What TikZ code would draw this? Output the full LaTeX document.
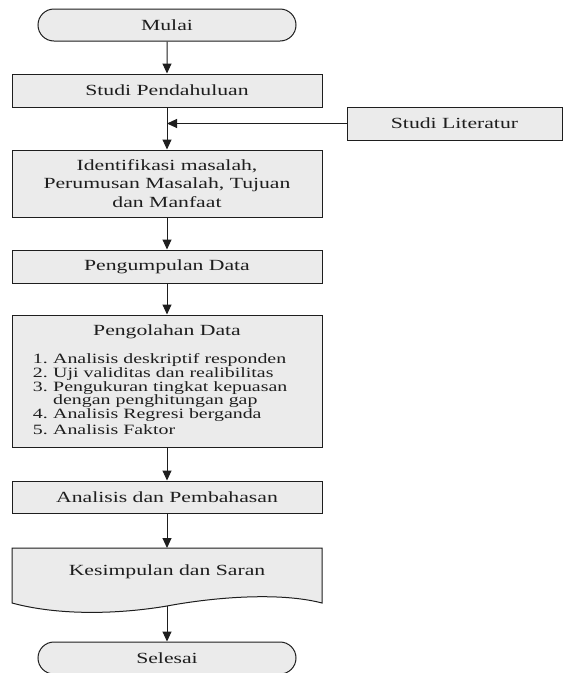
\documentclass[tikz,border=0pt]{standalone}
\usepackage{fontspec}
\setmainfont{Liberation Serif}[FakeStretch=1.4]
\usetikzlibrary{arrows.meta,shapes.misc}
\definecolor{boxfill}{HTML}{EBEBEB}
\definecolor{ink}{HTML}{1E1E1E}
\begin{document}
\begin{tikzpicture}[x=1pt,y=-1pt,
  box/.style={draw=ink,fill=boxfill,line width=1pt,minimum width=310pt,inner sep=0pt,
    font=\fontsize{15.5}{18.5}\selectfont,text=ink,align=center},
  term/.style={rounded rectangle,draw=ink,fill=boxfill,line width=1pt,minimum width=258pt,
    minimum height=32pt,inner sep=0pt,font=\fontsize{15.5}{18.5}\selectfont,text=ink},
  conn/.style={draw=ink,line width=1pt,-{Triangle[length=10pt,width=9pt]}},
  headtxt/.style={font=\fontsize{15.5}{18.5}\selectfont,text=ink,inner sep=0pt},
  numtxt/.style={font=\fontsize{14.2}{14}\selectfont,text=ink,inner sep=0pt,anchor=mid east},
  listtxt/.style={font=\fontsize{14.2}{14}\selectfont,text=ink,inner sep=0pt,anchor=mid west}]
\useasboundingbox[fill=white] (0,0) rectangle (564,673);

\node[term] (start) at (167,25) {Mulai};
\node[box,minimum height=33pt] (pend) at (167,90.5) {Studi Pendahuluan};
\node[box,minimum width=215pt,minimum height=33pt] (lit) at (454.5,123.5) {Studi Literatur};
\node[box,minimum height=67pt] (iden) at (167,183.5) {Identifikasi masalah,\\Perumusan Masalah, Tujuan\\dan Manfaat};
\node[box,minimum height=33pt] (kumpul) at (167,266.5) {Pengumpulan Data};
\node[box,minimum height=132pt] (olah) at (167,381) {};
\node[headtxt] (olahT) at (167,332) {Pengolahan Data};
\node[numtxt] (n1) at (48,361) {1.};
\node[listtxt] (t1) at (53,361) {Analisis deskriptif responden};
\node[numtxt] (n2) at (48,375) {2.};
\node[listtxt] (t2) at (53,375) {Uji validitas dan realibilitas};
\node[numtxt] (n3) at (48,389) {3.};
\node[listtxt] (t3) at (53,389) {Pengukuran tingkat kepuasan};
\node[listtxt] (t3b) at (53,402) {dengan penghitungan gap};
\node[numtxt] (n4) at (48,416) {4.};
\node[listtxt] (t4) at (53,416) {Analisis Regresi berganda};
\node[numtxt] (n5) at (48,432) {5.};
\node[listtxt] (t5) at (53,432) {Analisis Faktor};
\node[box,minimum height=32pt] (anal) at (167,497) {Analisis dan Pembahasan};

\draw[draw=ink,fill=boxfill,line width=1pt] (12,548) -- (322,548) -- (322,603)
  .. controls (280,592) and (215,597) .. (167,606)
  .. controls (120,614) and (60,616) .. (12,603) -- cycle;
\coordinate (kestop) at (167,548);
\coordinate (kesbot) at (167,606);
\node[headtxt] (kes) at (167,572) {Kesimpulan dan Saran};

\node[term] (end) at (167,658) {Selesai};

\draw[conn] (start) -- (pend);
\draw[conn] (pend) -- (iden);
\draw[conn] (lit.west) -- (lit.west -| pend.south);
\draw[conn] (iden) -- (kumpul);
\draw[conn] (kumpul) -- (olah);
\draw[conn] (olah) -- (anal);
\draw[conn] (anal) -- (kestop);
\draw[conn] (kesbot) -- (end);
\end{tikzpicture}
\end{document}
